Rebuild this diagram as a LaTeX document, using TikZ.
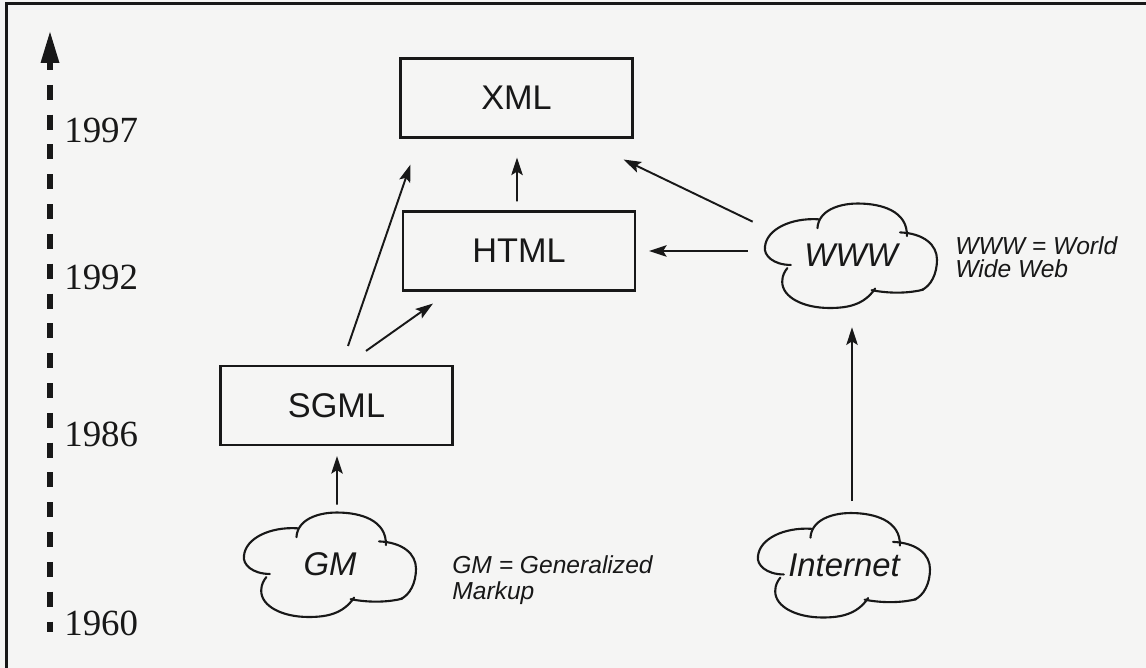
\documentclass[tikz,border=0pt]{standalone}
\usepackage{fontspec}
\setmainfont{Liberation Serif}
\newfontfamily\sansfont{Liberation Sans}
\usetikzlibrary{arrows.meta,calc}

\definecolor{paper}{RGB}{245,245,244}
\definecolor{ink}{RGB}{24,24,24}

% cloud outline drawn around a named node (unit coordinates, v upwards)
\newcommand\cloudpuffs[1]{%
  \begin{scope}[shift={(#1.center)}, xscale=86, yscale=-52.5, cloudline]
    \draw (-0.70,-0.18) .. controls (-0.90,-0.18) and (-1.02,0.00) .. (-1.00,0.17)
                        .. controls (-0.98,0.50) and (-0.70,0.72) .. (-0.38,0.69);
    \draw (-0.39,0.52) .. controls (-0.38,0.85) and (-0.15,0.99) .. (0.08,0.99)
                       .. controls (0.35,0.99) and (0.66,0.85) .. (0.65,0.37);
    \draw (0.57,0.44) .. controls (0.85,0.42) and (1.00,0.20) .. (1.00,-0.08)
                      .. controls (1.00,-0.35) and (0.93,-0.58) .. (0.82,-0.66);
    \draw (0.84,-0.65) .. controls (0.65,-0.73) and (0.42,-0.72) .. (0.24,-0.66);
    \draw (0.28,-0.63) .. controls (0.15,-0.95) and (-0.05,-1.00) .. (-0.25,-1.00)
                       .. controls (-0.55,-1.00) and (-0.80,-0.80) .. (-0.80,-0.50)
                       .. controls (-0.80,-0.38) and (-0.77,-0.30) .. (-0.74,-0.24);
  \end{scope}}

\begin{document}
\begin{tikzpicture}[x=0.02cm, y=-0.02cm,
  cloudline/.style={draw=ink, line width=1.2pt, line cap=round},
  box/.style={draw=ink, line width=1.2pt, minimum width=4.64cm, minimum height=1.58cm,
              inner sep=0pt, font=\sansfont\fontsize{19.5pt}{22pt}\selectfont, text=ink},
  cloudnode/.style={minimum width=3.44cm, minimum height=2.1cm, inner sep=0pt,
              font=\sansfont\itshape\fontsize{18.7pt}{22pt}\selectfont, text=ink},
  note/.style={align=left, inner sep=0pt, anchor=west, text=ink},
  year/.style={anchor=base west, inner sep=0pt, text=ink,
              font=\fontsize{21pt}{24pt}\selectfont},
  arr/.style={draw=ink, line width=1.1pt, -{Stealth[length=10pt,width=6.5pt,inset=2pt]}}]

  % page and frame
  \fill[paper] (0,0) rectangle (1146,668);
  \useasboundingbox (0,0) rectangle (1146,668);
  \draw[ink, line width=0.07cm, line join=miter] (6.5,668) -- (6.5,3.5) -- (1146,3.5);

  % time axis
  \coordinate (tltop) at (50,32);
  \coordinate (tlbot) at (50,632);
  \draw[ink, line width=0.14cm, dash pattern=on 0.3cm off 0.2965cm]
    ($(tltop)+(0,23)$) -- (tlbot);
  \fill[ink] (tltop) -- ++(9.5,31) -- ++(-19,0) -- cycle;

  \node[year] (y1997) at (64,143) {1997};
  \node[year] (y1992) at (64,290) {1992};
  \node[year] (y1986) at (64,447) {1986};
  \node[year] (y1960) at (64,635) {1960};

  % languages
  \node[box] (xml)  at (516.5,98)  {XML};
  \node[box] (html) at (519,251)   {HTML};
  \node[box] (sgml) at (336.5,405.5) {SGML};

  % clouds
  \node[cloudnode] (www)  at (851,255.5) {WWW};
  \node[cloudnode] (gm)   at (330,564.5) {GM};
  \node[cloudnode] (inet) at (844,565)   {Internet};
  \cloudpuffs{www}
  \cloudpuffs{gm}
  \cloudpuffs{inet}

  % explanations
  \node[note, font=\sansfont\itshape\fontsize{14pt}{12.8pt}\selectfont]
    (wwwnote) at (955,257.3) {WWW = World\\Wide Web};
  \node[note, font=\sansfont\itshape\fontsize{14pt}{14.7pt}\selectfont]
    (gmnote) at (452,580) {GM = Generalized\\Markup};

  % influences
  \draw[arr] ($(gm.north)+(7,-7)$) -- ($(sgml.south)+(0.5,10)$);
  \draw[arr] ($(sgml.north)+(11.5,-19)$) -- ($(xml.south west)+(11,26)$);
  \draw[arr] ($(sgml.north)+(29.5,-14)$) -- ($(html.south west)+(31,12)$);
  \draw[arr] ($(html.north)+(-2,-9)$) -- ($(xml.south)+(0.5,19)$);
  \draw[arr] ($(www.north west)+(-12,19)$) -- ($(xml.south east)+(-10,21)$);
  \draw[arr] ($(www.west)+(-17,-4.5)$) -- ($(html.east)+(13,0)$);
  \draw[arr] ($(www.south |- inet.north)+(1,-11)$) -- ($(www.south)+(1,19)$);
\end{tikzpicture}
\end{document}
